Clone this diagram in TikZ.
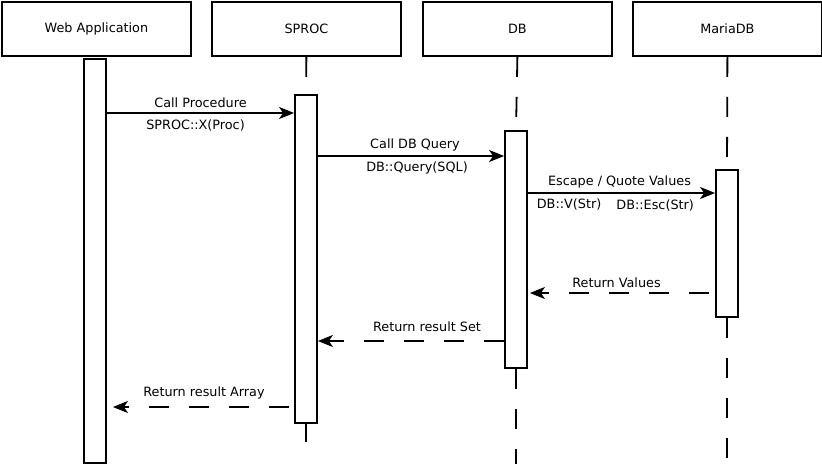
\documentclass[tikz,border=0pt]{standalone}
\usepackage{fontspec}
\setmainfont{DejaVu Sans}
\usetikzlibrary{arrows.meta}

\begin{document}
\begin{tikzpicture}[x=1pt,y=-1pt,line width=1.8pt,>={Stealth[length=15pt,width=12pt,inset=4pt]},
  font=\fontsize{12.8}{15}\selectfont,
  actor/.style={draw,minimum width=189pt,minimum height=54pt,anchor=north west,inner sep=0pt},
  act/.style={draw,fill=white,minimum width=22pt,anchor=north,inner sep=0pt},
  life/.style={dash pattern=on 20pt off 20pt},
  call/.style={->},
  reply/.style={->,dash pattern=on 20pt off 20pt}]

  \useasboundingbox (0,0) rectangle (822,464);

  % participants
  \node[actor] (web) at (1,1) {Web Application};
  \node[actor] (sproc) at (211,1) {SPROC};
  \node[actor] (db) at (422,1) {DB};
  \node[actor] (maria) at (632,1) {MariaDB};

  % activations (lifeline end points)
  \coordinate (sprocend) at (306,442);
  \coordinate (dbend) at (516,464);
  \coordinate (mariaend) at (727,464);

  \node[act,minimum height=404pt] (webact) at (95,58) {};
  \node[act,minimum height=328pt] (sprocact) at (306,94) {};
  \node[act,minimum height=237pt] (dbact) at (516,130) {};
  \node[act,minimum height=147pt] (mariaact) at (727,169) {};

  % lifelines
  \draw[life] (sproc.south) -- (sprocact.north);
  \draw[life] (sprocact.south) -- (sprocend);
  \draw[life] (db.south) -- (dbact.north);
  \draw[life] (dbact.south) -- (dbend);
  \draw[life] (maria.south) -- (mariaact.north);
  \draw[life] (mariaact.south) -- (mariaend);

  % messages
  \draw[call] (webact.east |- 0,113) -- node[above=1pt] {Call Procedure}
    node[below=3pt,xshift=-5pt] {SPROC::X(Proc)} (sprocact.west |- 0,113);
  \draw[call] (sprocact.east |- 0,156) -- node[above=1pt,xshift=4pt] {Call DB Query}
    node[below=2pt,xshift=6pt] {DB::Query(SQL)} (dbact.west |- 0,156);
  \draw[call] (dbact.east |- 0,193) -- node[above=1pt,xshift=-2pt] {Escape / Quote Values}
    node[below=2pt,pos=0.22] {DB::V(Str)}
    node[below=3pt,pos=0.68] {DB::Esc(Str)} (mariaact.west |- 0,193);
  \draw[reply] ([xshift=-6pt]mariaact.west |- 0,293) -- node[above=1pt,xshift=-3pt] {Return Values}
    ([xshift=2pt]dbact.east |- 0,293);
  \draw[reply] (dbact.west |- 0,341) -- node[above=5pt,xshift=16pt] {Return result Set}
    (sprocact.east |- 0,341);
  \draw[reply] ([xshift=-5pt]sprocact.west |- 0,407) -- node[above=4pt,xshift=3pt] {Return result Array}
    ([xshift=6pt]webact.east |- 0,407);
\end{tikzpicture}
\end{document}
